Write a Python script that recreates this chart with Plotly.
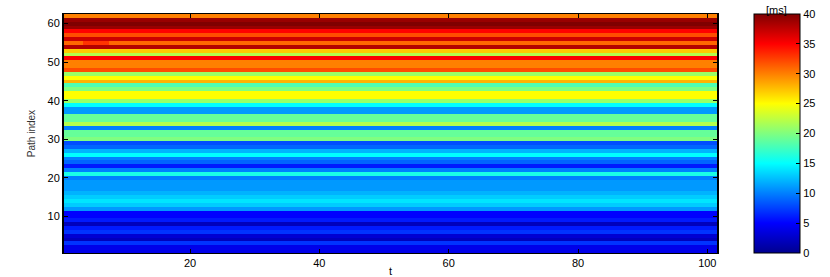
import plotly.graph_objects as go

# Path index 1..62 (bottom to top), t = 1..101
path_index = list(range(1, 63))
t_values = list(range(1, 102))

# Delay per path [ms] (index 1 first)
path_delay = [
    4, 4, 7, 2, 3, 7, 6, 2, 6, 5,          # 1-10
    5, 11, 13, 14, 13, 12, 11, 11, 11, 10,  # 11-20
    16, 10, 6, 9, 10, 15, 12, 9, 8, 20,     # 21-30
    19, 19, 10, 22, 19, 19, 11, 11, 15, 21, # 31-40
    25, 25, 20, 18, 28, 25, 21, 32, 30, 30, # 41-50
    35, 22, 27, 38, 31, 37, 32, 35, 39, 40, # 51-60
    39, 30,                                 # 61-62
]

# a local deviation seen in the picture: (path, t_start, t_end, value)
patches = [
    (55, 4, 7, 33),
]

z = []
for p, d in zip(path_index, path_delay):
    row = [d] * len(t_values)
    for (pp, a, b, v) in patches:
        if pp == p:
            for i, tv in enumerate(t_values):
                if a <= tv <= b:
                    row[i] = v
    z.append(row)

jet = [
    [0.0, "rgb(0,0,143)"],
    [0.125, "rgb(0,0,255)"],
    [0.375, "rgb(0,255,255)"],
    [0.625, "rgb(255,255,0)"],
    [0.875, "rgb(255,0,0)"],
    [1.0, "rgb(128,0,0)"],
]

font = dict(family="Liberation Sans, Arial, sans-serif", size=11, color="black")
cb_x = 1.056

fig = go.Figure(
    go.Heatmap(
        x=t_values,
        y=path_index,
        z=z,
        colorscale=jet,
        zmin=0,
        zmax=40,
        colorbar=dict(
            x=cb_x,
            xanchor="left",
            y=0.5,
            yanchor="middle",
            len=1.0,
            lenmode="fraction",
            thickness=46,
            thicknessmode="pixels",
            outlinecolor="black",
            outlinewidth=1,
            tickmode="array",
            tickvals=[0, 5, 10, 15, 20, 25, 30, 35, 40],
            ticks="inside",
            ticklen=4,
            tickcolor="black",
            tickfont=font,
            xpad=0,
            ypad=0,
        ),
    )
)

fig.add_annotation(
    text="[ms]", xref="paper", yref="paper", x=cb_x + 23 / 653, y=1.0,
    xanchor="center", yanchor="bottom", showarrow=False, font=font, yshift=-4,
)

fig.update_layout(
    width=830,
    height=277,
    margin=dict(l=64, r=113, t=14, b=24, autoexpand=False),
    paper_bgcolor="white",
    plot_bgcolor="white",
    font=font,
)
fig.update_xaxes(
    range=[0.5, 101.5],
    tickvals=[20, 40, 60, 80, 100],
    ticks="inside",
    ticklen=4,
    tickcolor="black",
    showline=True,
    linecolor="black",
    linewidth=1,
    mirror="ticks",
    showgrid=False,
    zeroline=False,
    automargin=False,
    title=dict(text="t", font=font, standoff=0),
    tickfont=font,
)
fig.update_yaxes(
    range=[0.5, 62.5],
    tickvals=[10, 20, 30, 40, 50, 60],
    ticks="inside",
    ticklen=4,
    tickcolor="black",
    showline=True,
    linecolor="black",
    linewidth=2,
    mirror="ticks",
    showgrid=False,
    zeroline=False,
    automargin=False,
    title=dict(text="Path index", font=dict(family="Liberation Sans, Arial, sans-serif", size=10, color="#333"), standoff=10),
    tickfont=font,
)

fig.write_html(
    "out.html",
    config={"displayModeBar": False},
    post_script="document.body.style.margin='0';document.body.style.overflow='hidden';",
)
